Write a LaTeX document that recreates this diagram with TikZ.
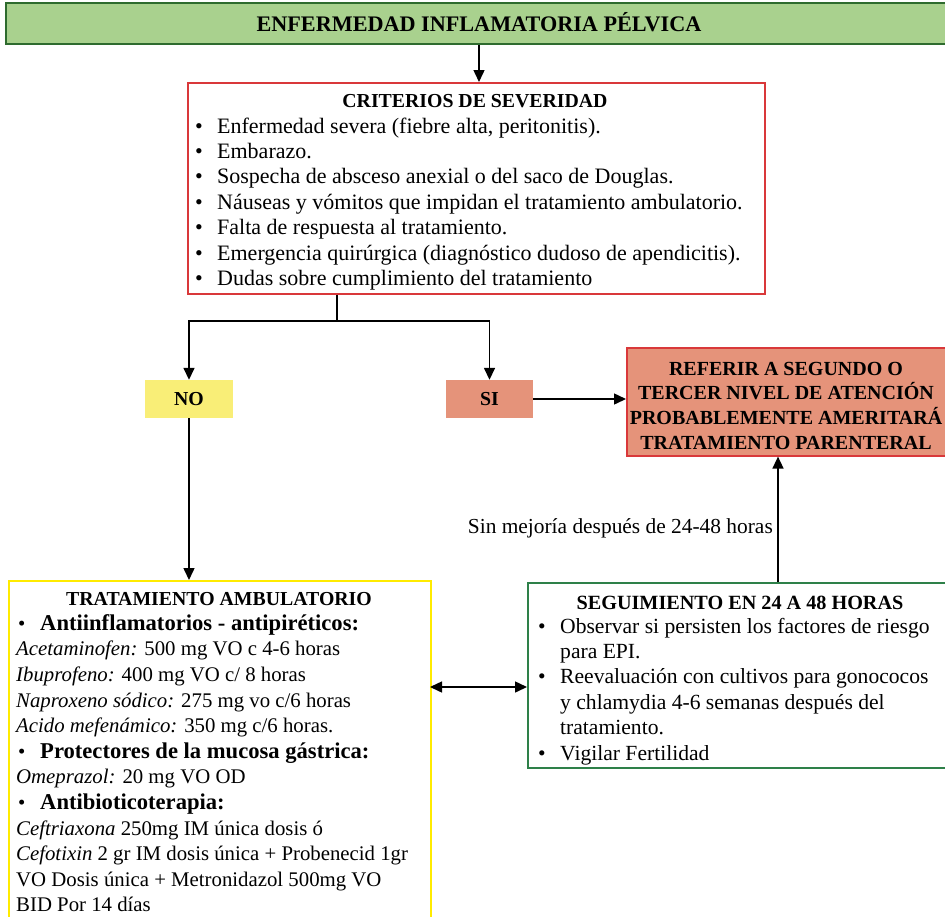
\documentclass[tikz,border=0pt]{standalone}
\usepackage{fontspec}
\setmainfont{Liberation Serif}
\usetikzlibrary{arrows.meta}
\definecolor{gfill}{HTML}{A9D18E}
\definecolor{gdark}{HTML}{2E6B2E}
\definecolor{rline}{HTML}{D9383A}
\definecolor{salmon}{HTML}{E5937A}
\definecolor{ylw}{HTML}{F9EE77}
\definecolor{yline}{HTML}{FFEB00}
\definecolor{gline}{HTML}{2E8049}
\newcommand{\bl}[1]{\makebox[22pt][l]{\textbullet}#1}
\newcommand{\cont}[1]{\hspace*{22pt}#1}
\newcommand{\bb}[1]{{\fontsize{22.6}{25.6}\selectfont\bfseries #1}}
\begin{document}
\begin{tikzpicture}[x=1pt,y=-1pt,
  box/.style={draw, line width=1.6pt, inner sep=0pt, anchor=north west},
  txt/.style={inner sep=0pt, anchor=north west, align=left, font=\fontsize{22}{25.4}\selectfont},
  head/.style={inner sep=0pt, font=\fontsize{19.8}{24.7}\selectfont\bfseries, align=center},
  arr/.style={line width=1.5pt, -{Triangle[width=11pt,length=12pt]}},
  arrtwo/.style={line width=1.5pt, {Triangle[width=11pt,length=12pt]}-{Triangle[width=11pt,length=12pt]}},
  lin/.style={line width=1.5pt}
]
\useasboundingbox (0,0) rectangle (945,916);
% top
\node[box, draw=gdark, fill=gfill, minimum width=945pt, minimum height=41pt] (epi) at (5,2) {};
\node[head, font=\fontsize{22.2}{24}\selectfont\bfseries, anchor=base] (epit) at (479,31) {ENFERMEDAD INFLAMATORIA PÉLVICA};
% criterios
\node[box, draw=rline, minimum width=577pt, minimum height=211pt] (crit) at (187,82) {};
\node[head, anchor=base] (critt) at (475,107) {CRITERIOS DE SEVERIDAD};
\node[txt] (critl) at (195,115.2) {\strut\bl{Enfermedad severa (fiebre alta, peritonitis).}\\
\bl{Embarazo.}\\
\bl{Sospecha de absceso anexial o del saco de Douglas.}\\
\bl{Náuseas y vómitos que impidan el tratamiento ambulatorio.}\\
\bl{Falta de respuesta al tratamiento.}\\
\bl{Emergencia quirúrgica (diagnóstico dudoso de apendicitis).}\\
\bl{Dudas sobre cumplimiento del tratamiento}};
\draw[arr] (epi.south -| 479,0) -- (crit.north -| 479,0);
% NO / SI
\node[fill=ylw, minimum width=88pt, minimum height=38pt, inner sep=0pt, font=\fontsize{19.8}{24}\selectfont\bfseries] (no) at (189,399) {NO};
\node[fill=salmon, minimum width=87pt, minimum height=38pt, inner sep=0pt, font=\fontsize{19.8}{24}\selectfont\bfseries] (si) at (489.5,399) {SI};
\coordinate (split) at (337,321);
\draw[lin] (split |- crit.south) -- (split);
\draw[arr] (split) -| (no.north);
\draw[arr] (split) -| (si.north);
% referir
\node[box, draw=rline, fill=salmon, minimum width=320pt, minimum height=108pt] (ref) at (626,347) {};
\node[head, anchor=north, font=\fontsize{20}{24.7}\selectfont\bfseries] (reft) at (786,357.7) {\strut REFERIR A SEGUNDO O\\TERCER NIVEL DE ATENCIÓN\\PROBABLEMENTE AMERITARÁ\\TRATAMIENTO PARENTERAL};
\draw[arr] (si.east) -- (si.east -| ref.west);
% tratamiento
\node[box, draw=yline, minimum width=422pt, minimum height=345pt] (trat) at (8,580) {};
\node[head, anchor=base] (tratt) at (219,605) {TRATAMIENTO AMBULATORIO};
\node[txt, font=\fontsize{20.8}{25.6}\selectfont] (tratl) at (16,612.1) {\strut\hspace*{2pt}\bl{\bb{Antiinflamatorios - antipiréticos:}}\\
\textit{Acetaminofen:} 500 mg VO c 4-6 horas\\
\textit{Ibuprofeno:} 400 mg VO c/ 8 horas\\
\textit{Naproxeno sódico:} 275 mg vo c/6 horas\\
\textit{Acido mefenámico:} 350 mg c/6 horas.\\
\hspace*{2pt}\bl{\bb{Protectores de la mucosa gástrica:}}\\
\textit{Omeprazol:} 20 mg VO OD\\
\hspace*{2pt}\bl{\bb{Antibioticoterapia:}}\\
\textit{Ceftriaxona} 250mg IM única dosis ó\\
\textit{Cefotixin} 2 gr IM dosis única + Probenecid 1gr\\
VO Dosis única + Metronidazol 500mg VO\\
BID Por 14 días};
\draw[arr] (no.south) -- (no.south |- trat.north);
% seguimiento
\node[box, draw=gline, minimum width=420pt, minimum height=185pt] (seg) at (527,582) {};
\node[head, anchor=base, font=\fontsize{20.2}{24.7}\selectfont\bfseries] (segt) at (740,609) {SEGUIMIENTO EN 24 A 48 HORAS};
\node[txt, font=\fontsize{21.6}{25.4}\selectfont] (segl) at (538,615.2) {\strut\bl{Observar si persisten los factores de riesgo}\\
\cont{para EPI.}\\
\bl{Reevaluación con cultivos para gonococos}\\
\cont{y chlamydia 4-6 semanas después del}\\
\cont{tratamiento.}\\
\bl{Vigilar Fertilidad}};
\coordinate (dA) at (430,687);
\draw[arrtwo] (dA) -- (dA -| seg.west);
\coordinate (up) at (778,582);
\draw[arr] (seg.north -| up) -- (ref.south -| up);
\node[inner sep=0pt, anchor=base east, font=\fontsize{21.4}{25.4}\selectfont] (lbl) at (773,533) {Sin mejoría después de 24-48 horas};
\end{tikzpicture}
\end{document}
